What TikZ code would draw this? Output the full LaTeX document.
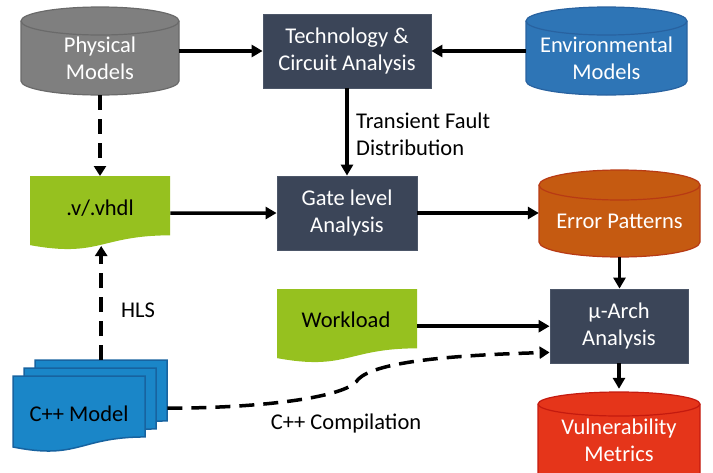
\documentclass[tikz,border=0pt]{standalone}
\usepackage{fontspec}
\setmainfont{Carlito}
\usetikzlibrary{arrows.meta}
\definecolor{boxF}{HTML}{3B4558}
\definecolor{boxD}{HTML}{4C5668}
\definecolor{grayF}{HTML}{7F7F7F}
\definecolor{grayD}{HTML}{6A6A6A}
\definecolor{envF}{HTML}{2E75B6}
\definecolor{envD}{HTML}{2862A0}
\definecolor{errF}{HTML}{C55A11}
\definecolor{errD}{HTML}{B83A14}
\definecolor{vulF}{HTML}{E5351A}
\definecolor{vulD}{HTML}{C41A0F}
\definecolor{greenF}{HTML}{96C11F}
\definecolor{cppF}{HTML}{1A86C8}
\definecolor{cppD}{HTML}{1763A0}

% cylinder: name, x1, x2, ytop, ybottom, ry, style
\newcommand\drawcyl[7]{%
  \pgfmathsetmacro\cylrx{(#3-#2)/2}%
  \pgfmathsetmacro\cylcx{(#2+#3)/2}%
  \pgfmathsetmacro\cylcy{(#4+#5)/2}%
  \path[#7] (#2,{#4+#6}) -- (#2,{#5-#6})
     arc[start angle=180,end angle=0,x radius=\cylrx,y radius=#6]
     -- (#3,{#4+#6})
     arc[start angle=0,end angle=-180,x radius=\cylrx,y radius=#6] -- cycle;
  \draw[#7,fill=none] (#2,{#4+#6}) arc[start angle=180,end angle=0,x radius=\cylrx,y radius=#6];
  \node[inner sep=0pt,minimum width={#3-#2},minimum height={#5-#4}] (#1) at (\cylcx,\cylcy) {};
}
% document: name, x1, x2, ytop, H, style
\newcommand\drawdoc[6]{%
  \path[#6] (#2,#4) -- (#3,#4) -- (#3,{#4+0.802*#5})
     .. controls ({(#2+#3)/2},{#4+0.802*#5}) and ({(#2+#3)/2},{#4+1.107*#5}) .. (#2,{#4+0.934*#5}) -- cycle;
  \node[inner sep=0pt,minimum width={#3-#2},minimum height={#5},anchor=north west] (#1) at (#2,#4) {};
}

\begin{document}
\begin{tikzpicture}[x=1pt,y=-1pt,
  every node/.style={font=\fontsize{22.5}{27}\selectfont},
  darkbox/.style={draw=boxD,line width=0.8pt,fill=boxF,text=white,align=center,inner sep=0pt,minimum height=74pt},
  txt/.style={align=center,inner sep=0pt},
  solidarrow/.style={line width=3.5pt,-{Triangle[length=11pt,width=12pt]}},
  dasharrow/.style={line width=3.5pt,dash pattern=on 15pt off 9pt,-{Triangle[length=10pt,width=12pt]}},
]
\useasboundingbox (0,0) rectangle (713,472);
\clip (0,0) rectangle (713,472);

% cylinders
\drawcyl{phys}{21}{179}{7}{95}{14}{fill=grayF,draw=grayD,line width=1.2pt}
\node[txt,text=white] (physT) at (100,58) {Physical\\Models};
\drawcyl{env}{526}{687}{7}{95}{14}{fill=envF,draw=envD,line width=1.2pt}
\node[txt,text=white] (envT) at (606.5,58) {Environmental\\Models};
\drawcyl{err}{539}{700}{170}{257}{15}{fill=errF,draw=errD,line width=1.2pt}
\node[txt,text=white,anchor=base] (errT) at (619.5,228) {Error Patterns};
\drawcyl{vul}{538}{700}{392}{492}{12}{fill=vulF,draw=vulD,line width=1.2pt}
\node[txt,text=white] (vulT) at (619,440) {Vulnerability\\Metrics};

% boxes
\node[darkbox,minimum width=168pt] (tech) at (347,51) {Technology \&\\Circuit Analysis};
\node[darkbox,minimum width=140pt] (gate) at (347,213) {Gate level\\Analysis};
\node[darkbox,minimum width=138pt] (march) at (619,326) {µ-Arch\\Analysis};

% documents
\drawdoc{vhdl}{30}{170}{176}{74}{fill=greenF}
\node[txt,anchor=base] (vhdlT) at (100,215) {.v/.vhdl};
\drawdoc{wl}{277}{417}{289}{74}{fill=greenF}
\node[txt,anchor=base] (wlT) at (346,327) {Workload};
\drawdoc{cppb}{35}{167}{360}{76}{fill=cppF,draw=cppD,line width=1.5pt}
\drawdoc{cppm}{24}{156}{368}{76}{fill=cppF,draw=cppD,line width=1.5pt}
\drawdoc{cppf}{13}{145}{376}{76}{fill=cppF,draw=cppD,line width=1.5pt}
\node[txt,anchor=base] (cppT) at (79,421) {C++ Model};
\coordinate (vhdlw) at (100,246);

% labels
\node[txt,anchor=west,align=left] (tfd) at (356,134) {Transient Fault\\Distribution};
\node[txt,anchor=base] (hls) at (138,317) {HLS};
\node[txt,anchor=base] (cc) at (346,429) {C++ Compilation};

% solid connectors
\draw[solidarrow] (phys.east) -- (tech.west);
\draw[solidarrow] (env.west) -- (tech.east);
\draw[solidarrow] (tech.south) -- (gate.north);
\draw[solidarrow] (vhdl.east) -- (gate.west);
\draw[solidarrow] (gate.east) -- (err.west |- gate.east);
\draw[solidarrow] (err.south) -- (err.south |- march.north);
\draw[solidarrow] (wl.east) -- (march.west |- wl.east);
\draw[solidarrow,shorten >=3pt] (march.south) -- (march.south |- vul.north);

% dashed connectors
\draw[dasharrow] (phys.south) -- (phys.south |- vhdl.north);
\draw[dasharrow] (cppb.north) -- (cppb.north |- vhdlw);
\draw[dasharrow] ([yshift=-10pt]cppb.east) .. controls (260,408) and (340,398) .. (356,382)
   .. controls (366,366) and (420,356) .. ([yshift=11pt]march.south west);
\end{tikzpicture}
\end{document}
